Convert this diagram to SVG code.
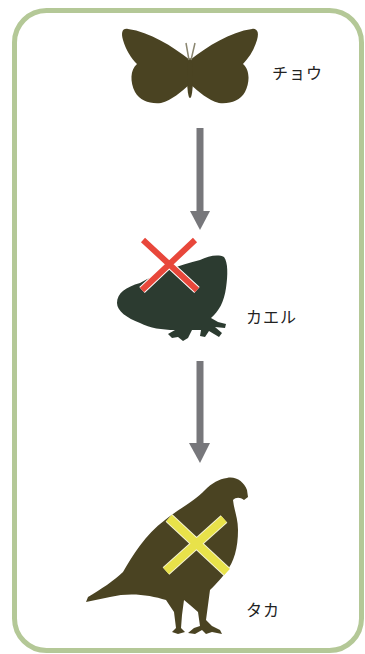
<svg xmlns="http://www.w3.org/2000/svg" xmlns:xlink="http://www.w3.org/1999/xlink" width="365" height="654" viewBox="0 0 365 654">
  <style>
    .frame { fill: #ffffff; stroke: #b4c897; stroke-width: 5; }
    .label { font-family: "Noto Sans CJK JP", "Noto Sans", sans-serif; font-size: 16px; letter-spacing: 1px; fill: #222222; }
    .shaft { stroke: #77777b; stroke-width: 7; fill: none; }
    .head { fill: #77777b; }
    .olive { fill: #4a4322; }
    .frogfill { fill: #2c3b30; }
  </style>
  <defs>
    <path id="wing" d="M190,60 C172,46 150,32 128,29 C122,28 121,33 123,40 C126,50 131,58 137,64 C130,70 130,82 135,92 C140,101 150,104 161,103 C172,100 181,92 190,84 Z"/>
  </defs>

  <rect x="0" y="0" width="365" height="654" fill="#ffffff"/>
  <rect class="frame" x="14.5" y="10.5" width="347" height="640" rx="32" ry="32"/>

  <!-- food-chain arrows -->
  <g id="connectors">
    <line class="shaft" x1="200" y1="128" x2="200" y2="213"/>
    <polygon class="head" points="190,211 210,211 200,230"/>
    <line class="shaft" x1="200" y1="361" x2="200" y2="445"/>
    <polygon class="head" points="189,443 210,443 200,463"/>
  </g>

  <g id="butterfly">
    <use xlink:href="#wing" class="olive"/>
    <use xlink:href="#wing" class="olive" transform="translate(380,0) scale(-1,1)"/>
    <ellipse cx="190" cy="78" rx="3" ry="20" class="olive"/>
    <path d="M189,60 L186,43 M191,60 L195,43" stroke="#8a8670" stroke-width="1.5" fill="none"/>
    <text class="label" x="272" y="79">チョウ</text>
  </g>

  <g id="frog">
    <path class="frogfill" d="M117,303 C117,293 126,287 140,283 C158,273 180,265 200,260 C208,256 218,254 224,257 C228,262 228,275 226,288 C224,302 219,311 211,318 L218,322 L226,324 L225,328 L215,327 L222,333 L219,337 L209,331 L205,337 L200,336 L201,330 L192,330 L188,338 L183,341 L178,337 L172,338 L168,334 L175,330 C162,330 150,328 140,323 C127,318 117,311 117,303 Z"/>
    <g stroke-linecap="butt">
      <path d="M143,240 L197,290 M195,240 L142,290" stroke="#ffffff" stroke-width="8"/>
      <path d="M143,240 L197,290 M195,240 L142,290" stroke="#e8473b" stroke-width="6"/>
    </g>
    <text class="label" x="246" y="323">カエル</text>
  </g>

  <g id="hawk">
    <path class="olive" d="M227,478 C236,476 244,482 247,490 L248,497 L244,500 C240,497 236,497 233,500 C234,510 238,518 238,530 C238,548 234,562 226,572 C220,580 214,586 210,590 L208,605 L206,620 L212,626 L220,630 L222,634 L212,632 L206,634 L202,630 L195,634 L188,633 L194,628 L200,626 L198,612 L190,605 L184,600 L182,615 L181,628 L185,632 L178,634 L172,632 L176,628 L174,612 L166,600 C150,595 130,592 110,597 L86,602 L88,597 C100,590 115,580 123,572 C133,555 145,535 165,520 C180,508 196,500 205,490 C212,483 219,479 227,478 Z"/>
    <g stroke-linecap="butt">
      <path d="M169,518 L227,572 M224,519 L166,571" stroke="#f4f2d0" stroke-width="10"/>
      <path d="M169,518 L227,572 M224,519 L166,571" stroke="#e8e24a" stroke-width="8"/>
    </g>
    <text class="label" x="246" y="616">タカ</text>
  </g>
</svg>
